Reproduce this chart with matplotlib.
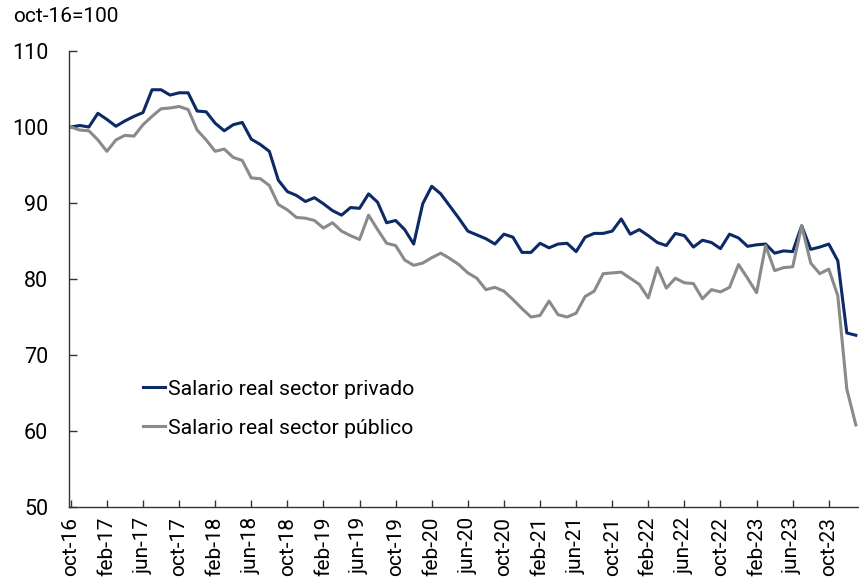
import matplotlib
matplotlib.use("Agg")
import matplotlib.pyplot as plt
import numpy as np

plt.rcParams["font.family"] = ["Roboto", "DejaVu Sans"]

# Monthly index, oct-16 = 100 (oct-16 .. jan-24)
privado = [
    100.0, 100.2, 100.0, 101.8, 101.0, 100.1, 100.8, 101.4, 101.9, 104.9,
    104.9, 104.2, 104.5, 104.5, 102.1, 102.0, 100.5, 99.5, 100.3, 100.6,
    98.4, 97.7, 96.8, 93.0, 91.5, 91.0, 90.2, 90.7, 89.9, 89.0,
    88.4, 89.4, 89.3, 91.2, 90.1, 87.4, 87.7, 86.5, 84.6, 89.9,
    92.2, 91.2, 89.6, 88.0, 86.3, 85.8, 85.3, 84.6, 85.9, 85.5,
    83.5, 83.5, 84.7, 84.1, 84.6, 84.7, 83.6, 85.5, 86.0, 86.0,
    86.3, 87.9, 85.9, 86.5, 85.7, 84.8, 84.4, 86.0, 85.7, 84.2,
    85.1, 84.8, 84.0, 85.9, 85.4, 84.3, 84.5, 84.6, 83.4, 83.7,
    83.6, 87.0, 83.9, 84.2, 84.6, 82.4, 72.9, 72.6,
]
publico = [
    100.0, 99.6, 99.5, 98.3, 96.8, 98.3, 98.9, 98.8, 100.3, 101.4,
    102.4, 102.5, 102.7, 102.3, 99.6, 98.3, 96.8, 97.1, 96.0, 95.6,
    93.3, 93.2, 92.3, 89.8, 89.1, 88.1, 88.0, 87.7, 86.7, 87.4,
    86.3, 85.7, 85.2, 88.4, 86.5, 84.7, 84.4, 82.5, 81.8, 82.1,
    82.8, 83.4, 82.7, 81.9, 80.8, 80.1, 78.6, 78.9, 78.4, 77.3,
    76.1, 75.0, 75.2, 77.1, 75.3, 75.0, 75.5, 77.7, 78.4, 80.7,
    80.8, 80.9, 80.1, 79.3, 77.5, 81.5, 78.8, 80.1, 79.5, 79.4,
    77.4, 78.6, 78.3, 78.9, 81.9, 80.1, 78.2, 84.4, 81.1, 81.5,
    81.6, 87.0, 82.1, 80.7, 81.3, 77.8, 65.5, 60.8,
]

tick_labels = [
    "oct-16", "feb-17", "jun-17", "oct-17", "feb-18", "jun-18", "oct-18",
    "feb-19", "jun-19", "oct-19", "feb-20", "jun-20", "oct-20", "feb-21",
    "jun-21", "oct-21", "feb-22", "jun-22", "oct-22", "feb-23", "jun-23",
    "oct-23",
]

x = np.arange(len(privado))

fig = plt.figure(figsize=(8.59, 5.83), dpi=100)
ax = fig.add_axes([69 / 859, 76 / 583, 790 / 859, 456 / 583])

ax.plot(x, privado, color="#0b2a66", lw=2.2, label="Salario real sector privado")
ax.plot(x, publico, color="#8a8a8a", lw=2.2, label="Salario real sector público")

ax.set_ylim(50, 110)
ax.set_yticks(np.arange(50, 111, 10))
ax.set_xlim(-0.2, len(privado) - 1 + 0.35)
ax.set_xticks(np.arange(0, len(tick_labels) * 4, 4))
ax.set_xticklabels(tick_labels, rotation=90)

for side in ("top", "right"):
    ax.spines[side].set_visible(False)
for side in ("left", "bottom"):
    ax.spines[side].set_color("#333333")
    ax.spines[side].set_linewidth(1.0)

ax.tick_params(axis="y", direction="in", length=6, width=1, color="#333333",
               labelsize=15.5, pad=15)
ax.tick_params(axis="x", direction="in", length=5, width=1, color="#333333",
               labelsize=15, pad=7)

fig.text(13 / 859, 1 - 16 / 583, "oct-16=100", fontsize=15, va="center", ha="left")

ax.legend(loc="lower left", bbox_to_anchor=(0.07, 0.11), frameon=False,
          fontsize=15.3, handlelength=1.0, handletextpad=0.15, labelspacing=0.95)

fig.savefig("out.png", dpi=100)
